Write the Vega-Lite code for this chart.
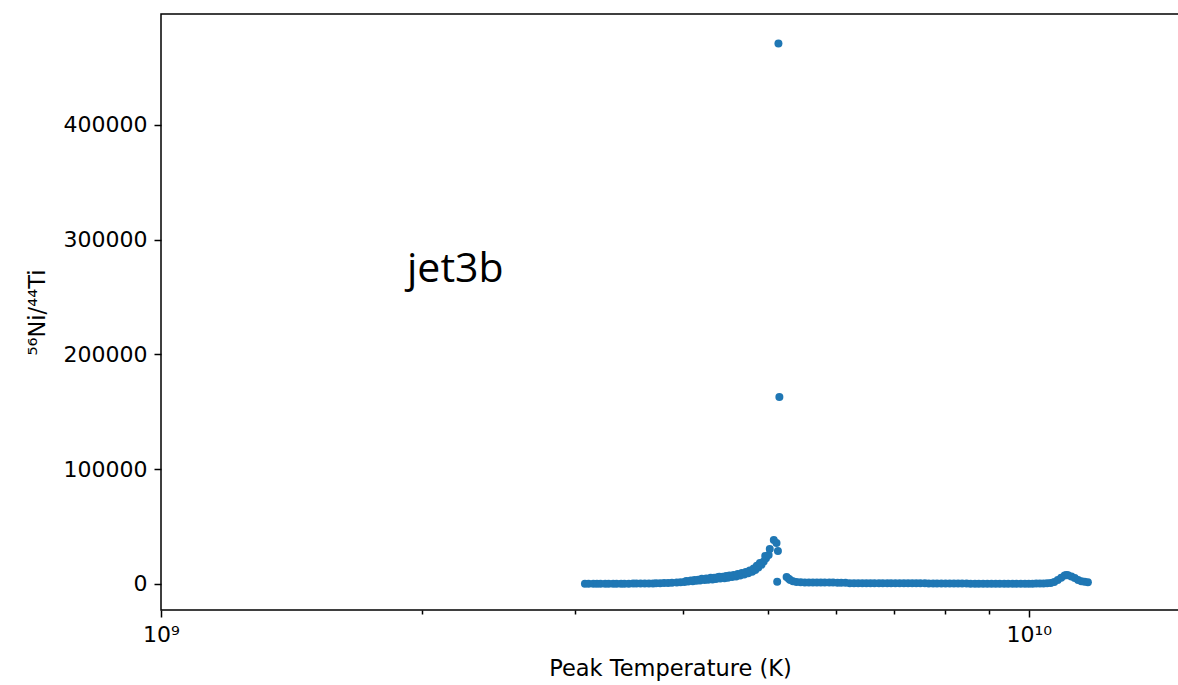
{
  "$schema": "https://vega.github.io/schema/vega-lite/v6.json",
  "autosize": "none",
  "width": 1018,
  "height": 596,
  "padding": {"left": 161, "top": 14, "right": 0, "bottom": 75},
  "background": "white",
  "config": {
    "view": {"stroke": "#000000", "strokeWidth": 1.5},
    "axis": {"labelFont": "DejaVu Sans", "titleFont": "DejaVu Sans", "labelFontSize": 22, "titleFontSize": 22.5, "titleFontWeight": "normal", "labelColor": "#000000", "titleColor": "#000000", "tickColor": "#000000", "domain": false, "grid": false, "tickWidth": 1.5}
  },
  "layer": [
    {
      "data": {"values": [
        {"T": 3.08e9, "v": 150}, {"T": 3.11e9, "v": 160}, {"T": 3.15e9, "v": 170}, {"T": 3.18e9, "v": 180},
        {"T": 3.21e9, "v": 190}, {"T": 3.25e9, "v": 200}, {"T": 3.28e9, "v": 210}, {"T": 3.32e9, "v": 230},
        {"T": 3.35e9, "v": 250}, {"T": 3.39e9, "v": 270}, {"T": 3.42e9, "v": 290}, {"T": 3.46e9, "v": 310},
        {"T": 3.50e9, "v": 340}, {"T": 3.53e9, "v": 370}, {"T": 3.57e9, "v": 400}, {"T": 3.61e9, "v": 440},
        {"T": 3.65e9, "v": 480}, {"T": 3.69e9, "v": 530}, {"T": 3.72e9, "v": 600}, {"T": 3.76e9, "v": 700},
        {"T": 3.80e9, "v": 800}, {"T": 3.84e9, "v": 950}, {"T": 3.88e9, "v": 1100}, {"T": 3.93e9, "v": 1300},
        {"T": 3.97e9, "v": 1500}, {"T": 4.01e9, "v": 1800}, {"T": 4.05e9, "v": 2100}, {"T": 4.10e9, "v": 2500},
        {"T": 4.14e9, "v": 2800}, {"T": 4.18e9, "v": 3100}, {"T": 4.23e9, "v": 3400}, {"T": 4.27e9, "v": 3700},
        {"T": 4.32e9, "v": 4000}, {"T": 4.36e9, "v": 4300}, {"T": 4.41e9, "v": 4700}, {"T": 4.46e9, "v": 5100},
        {"T": 4.50e9, "v": 5500}, {"T": 4.55e9, "v": 6000}, {"T": 4.60e9, "v": 6600}, {"T": 4.65e9, "v": 7300},
        {"T": 4.70e9, "v": 8200}, {"T": 4.75e9, "v": 9300}, {"T": 4.80e9, "v": 10700}, {"T": 4.84e9, "v": 12300},
        {"T": 4.88e9, "v": 14300}, {"T": 4.92e9, "v": 16800}, {"T": 4.95e9, "v": 19500}, {"T": 4.98e9, "v": 22500},
        {"T": 4.03e9, "v": 2600}, {"T": 4.08e9, "v": 3000}, {"T": 4.12e9, "v": 3500}, {"T": 4.16e9, "v": 3800},
        {"T": 4.20e9, "v": 4600}, {"T": 4.25e9, "v": 4700}, {"T": 4.30e9, "v": 5400}, {"T": 4.34e9, "v": 5500},
        {"T": 4.38e9, "v": 5800}, {"T": 4.40e9, "v": 6300}, {"T": 4.44e9, "v": 6400}, {"T": 4.48e9, "v": 6900},
        {"T": 4.52e9, "v": 7400}, {"T": 4.57e9, "v": 7900}, {"T": 4.62e9, "v": 8700}, {"T": 4.67e9, "v": 9500},
        {"T": 4.72e9, "v": 10500}, {"T": 4.77e9, "v": 11800}, {"T": 4.82e9, "v": 13600}, {"T": 4.86e9, "v": 15800},
        {"T": 4.90e9, "v": 18200}, {"T": 4.97e9, "v": 24500},
        {"T": 5.015e9, "v": 25300}, {"T": 5.03e9, "v": 30500}, {"T": 5.084e9, "v": 38300}, {"T": 5.121e9, "v": 35700},
        {"T": 5.14e9, "v": 28800}, {"T": 5.13e9, "v": 2000}, {"T": 5.147e9, "v": 471000}, {"T": 5.16e9, "v": 163000},
        {"T": 5.26e9, "v": 6100}, {"T": 5.29e9, "v": 4500}, {"T": 5.31e9, "v": 3500}, {"T": 5.35e9, "v": 2500},
        {"T": 5.40e9, "v": 1800}, {"T": 5.46e9, "v": 1500},
        {"T": 5.52e9, "v": 1400}, {"T": 5.58e9, "v": 1400}, {"T": 5.64e9, "v": 1350}, {"T": 5.70e9, "v": 1300},
        {"T": 5.76e9, "v": 1300}, {"T": 5.82e9, "v": 1250}, {"T": 5.89e9, "v": 1200}, {"T": 5.95e9, "v": 1200},
        {"T": 6.02e9, "v": 1150}, {"T": 6.08e9, "v": 1100}, {"T": 6.15e9, "v": 1100}, {"T": 6.22e9, "v": 750},
        {"T": 6.29e9, "v": 720}, {"T": 6.36e9, "v": 700}, {"T": 6.43e9, "v": 700}, {"T": 6.50e9, "v": 690},
        {"T": 6.57e9, "v": 680}, {"T": 6.64e9, "v": 670}, {"T": 6.72e9, "v": 660}, {"T": 6.79e9, "v": 650},
        {"T": 6.87e9, "v": 640}, {"T": 6.94e9, "v": 630}, {"T": 7.02e9, "v": 620}, {"T": 7.10e9, "v": 610},
        {"T": 7.18e9, "v": 600}, {"T": 7.26e9, "v": 590}, {"T": 7.34e9, "v": 580}, {"T": 7.42e9, "v": 570},
        {"T": 7.50e9, "v": 560}, {"T": 7.59e9, "v": 550}, {"T": 7.67e9, "v": 540}, {"T": 7.76e9, "v": 530},
        {"T": 7.84e9, "v": 520}, {"T": 7.93e9, "v": 510}, {"T": 8.02e9, "v": 500}, {"T": 8.11e9, "v": 490},
        {"T": 8.20e9, "v": 480}, {"T": 8.29e9, "v": 470}, {"T": 8.38e9, "v": 460}, {"T": 8.48e9, "v": 450},
        {"T": 8.57e9, "v": 300}, {"T": 8.67e9, "v": 290}, {"T": 8.76e9, "v": 280}, {"T": 8.86e9, "v": 270},
        {"T": 8.96e9, "v": 260}, {"T": 9.06e9, "v": 250}, {"T": 9.16e9, "v": 250}, {"T": 9.26e9, "v": 250},
        {"T": 9.37e9, "v": 250}, {"T": 9.47e9, "v": 260}, {"T": 9.58e9, "v": 260}, {"T": 9.68e9, "v": 270},
        {"T": 9.79e9, "v": 280}, {"T": 9.90e9, "v": 290}, {"T": 1.00e10, "v": 300}, {"T": 1.01e10, "v": 320},
        {"T": 1.02e10, "v": 350}, {"T": 1.03e10, "v": 400}, {"T": 1.04e10, "v": 500}, {"T": 1.05e10, "v": 700},
        {"T": 1.06e10, "v": 900}, {"T": 1.07e10, "v": 1800}, {"T": 1.08e10, "v": 3500}, {"T": 1.09e10, "v": 5500},
        {"T": 1.10e10, "v": 7300}, {"T": 1.105e10, "v": 7800}, {"T": 1.11e10, "v": 7600}, {"T": 1.12e10, "v": 6500},
        {"T": 1.13e10, "v": 5200}, {"T": 1.14e10, "v": 3500}, {"T": 1.15e10, "v": 2500}, {"T": 1.16e10, "v": 2000},
        {"T": 1.17e10, "v": 1500}
      ]},
      "mark": {"type": "circle", "size": 64, "opacity": 1, "color": "#1f77b4"},
      "encoding": {
        "x": {
          "field": "T", "type": "quantitative",
          "scale": {"type": "log", "domain": [1e9, 1.49e10], "nice": false},
          "axis": {
            "title": "Peak Temperature (K)",
            "values": [1e9, 2e9, 3e9, 4e9, 5e9, 6e9, 7e9, 8e9, 9e9, 1e10],
            "labelExpr": "datum.value == 1e9 ? '10⁹' : (datum.value == 1e10 ? '10¹⁰' : '')",
            "tickSize": {"condition": {"test": "datum.value == 1e9 || datum.value == 1e10", "value": 7}, "value": 4},
            "labelPadding": 7,
            "titlePadding": 12,
            "labelFlush": false,
            "labelOverlap": false
          }
        },
        "y": {
          "field": "v", "type": "quantitative",
          "scale": {"domain": [-22658, 496730], "nice": false, "zero": false},
          "axis": {
            "title": "⁵⁶Ni/⁴⁴Ti",
            "values": [0, 100000, 200000, 300000, 400000],
            "format": "d",
            "tickSize": 7,
            "labelPadding": 7,
            "titlePadding": 14
          }
        }
      }
    },
    {
      "data": {"values": [{"T": 1.921e9, "v": 263180, "label": "jet3b"}]},
      "mark": {"type": "text", "align": "left", "baseline": "alphabetic", "font": "Open Sans", "fontSize": 41, "color": "#000000"},
      "encoding": {
        "x": {"field": "T", "type": "quantitative"},
        "y": {"field": "v", "type": "quantitative"},
        "text": {"field": "label"}
      }
    }
  ]
}
